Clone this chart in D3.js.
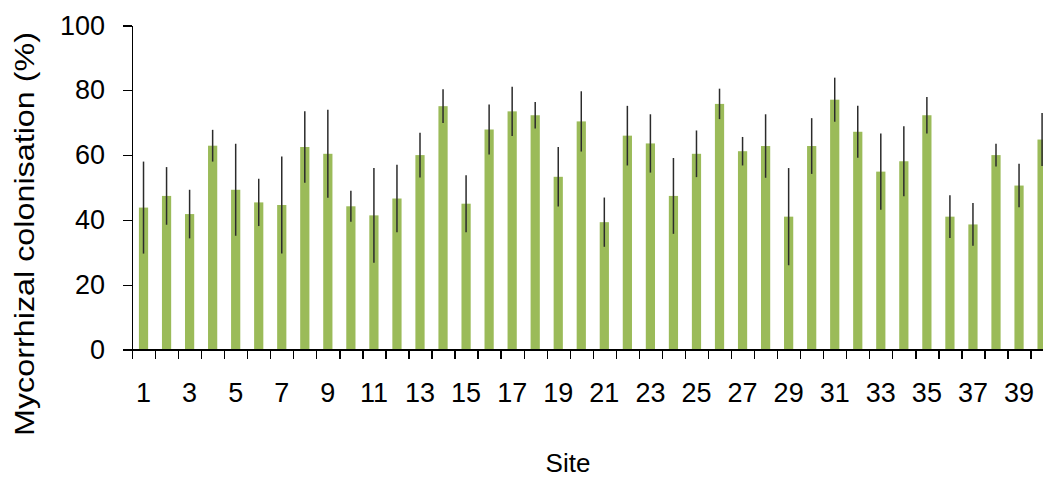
<!DOCTYPE html>
<html>
<head>
<meta charset="utf-8">
<script src="https://cdn.jsdelivr.net/npm/d3@7"></script>
<style>
  html, body { margin: 0; padding: 0; background: #fff; }
  svg { display: block; font-family: "Liberation Sans", Arial, sans-serif; }
  .axis path, .axis line { stroke: #000; stroke-width: 1.3; shape-rendering: crispEdges; }
  .axis text { fill: #000; font-size: 27px; font-family: "Liberation Sans", Arial, sans-serif; }
</style>
</head>
<body>
<svg id="chart" width="1043" height="479"></svg>
<script>
// Site numbers, mean colonisation (%) and error half-widths
const sites = d3.range(1, 41);
const colonisation = [43.8, 47.4, 41.8, 62.9, 49.3, 45.4, 44.6, 62.5, 60.4, 44.2,
                      41.4, 46.6, 60.0, 75.1, 45.0, 67.9, 73.5, 72.3, 53.3, 70.4,
                      39.3, 66.0, 63.6, 47.4, 60.4, 75.8, 61.2, 62.8, 41.0, 62.8,
                      77.1, 67.2, 54.9, 58.1, 72.3, 41.0, 38.6, 60.0, 50.6, 64.8];
const errors = [14.2, 8.9, 7.5, 4.9, 14.2, 7.3, 15.0, 11.0, 13.6, 4.8,
                14.6, 10.4, 6.9, 5.2, 8.8, 7.7, 7.6, 4.1, 9.2, 9.3,
                7.6, 9.2, 9.0, 11.7, 7.2, 4.7, 4.4, 9.8, 15.0, 8.6,
                6.8, 8.0, 11.8, 10.8, 5.6, 6.6, 6.6, 3.5, 6.7, 8.2];
const yTicks = [0, 20, 40, 60, 80, 100];
const xTickLabels = sites.filter(d => d % 2 === 1);

const svg = d3.select("#chart");
const plotLeft = 132, plotRight = 1053.6, plotTop = 25.5, plotBottom = 349.5;

const x = d3.scaleBand().domain(sites).range([plotLeft, plotRight])
  .paddingInner(0.6).paddingOuter(0.3);
const xEdges = d3.scaleLinear().domain([0, sites.length]).range([plotLeft, plotRight]);
const y = d3.scaleLinear().domain([0, 100]).range([plotBottom, plotTop]);

// bars
svg.append("g").selectAll("rect").data(sites).join("rect")
  .attr("x", d => x(d))
  .attr("width", x.bandwidth())
  .attr("y", (d, i) => y(colonisation[i]))
  .attr("height", (d, i) => y(0) - y(colonisation[i]))
  .attr("fill", "#9BBB59");

// error bars
svg.append("g").selectAll("line").data(sites).join("line")
  .attr("x1", d => x(d) + x.bandwidth() / 2)
  .attr("x2", d => x(d) + x.bandwidth() / 2)
  .attr("y1", (d, i) => y(colonisation[i] + errors[i]))
  .attr("y2", (d, i) => y(colonisation[i] - errors[i]))
  .attr("stroke", "#2b2b2b")
  .attr("stroke-width", 1.5);

// y axis
svg.append("g").attr("class", "axis")
  .attr("transform", `translate(${plotLeft},0)`)
  .call(d3.axisLeft(y).tickValues(yTicks).tickSize(9).tickSizeOuter(0).tickPadding(18));

// x axis: tick marks between sites
svg.append("g").attr("class", "axis")
  .attr("transform", `translate(0,${plotBottom})`)
  .call(d3.axisBottom(xEdges).tickValues(d3.range(0, sites.length + 1))
    .tickSize(9).tickSizeOuter(0).tickFormat(""));

// x axis: labels for odd sites
const xl = svg.append("g").attr("class", "axis")
  .attr("transform", `translate(0,${plotBottom})`)
  .call(d3.axisBottom(x).tickValues(xTickLabels).tickSize(0).tickPadding(33.8));
xl.select(".domain").remove();

// axis titles
svg.append("text")
  .attr("transform", "translate(34,234) rotate(-90)")
  .attr("text-anchor", "middle")
  .attr("font-size", 28)
  .attr("textLength", 404)
  .attr("lengthAdjust", "spacingAndGlyphs")
  .attr("fill", "#000")
  .text("Mycorrhizal colonisation (%)");

svg.append("text")
  .attr("x", 568).attr("y", 472)
  .attr("text-anchor", "middle")
  .attr("font-size", 26)
  .attr("fill", "#000")
  .text("Site");
</script>
</body>
</html>
